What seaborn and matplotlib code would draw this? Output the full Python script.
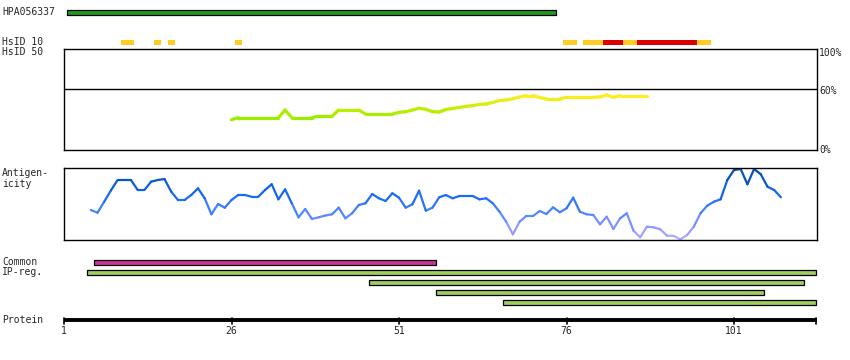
import numpy as np
import pandas as pd
import matplotlib
matplotlib.use("Agg")
import matplotlib.pyplot as plt
import seaborn as sns
from matplotlib.colors import LinearSegmentedColormap

# ---------------- data ----------------
protein_len = 113
tick_residues = [1, 26, 51, 76, 101]

hpa_name = "HPA056337"
hpa_range = (2, 74)

# HsID 10 identity blocks: (start, end, level)
hsid10_start = [10, 15, 17, 27, 76, 79, 82, 85, 87, 96]
hsid10_end = [11, 15, 17, 27, 77, 81, 84, 86, 95, 97]
hsid10_level = ["mid", "mid", "mid", "mid", "mid", "mid", "high", "mid", "high", "mid"]

# HsID 50 identity (%) per residue, residues 26..88
hsid50_start = 26
hsid50_values = [30.0, 32.0, 32.0, 32.0, 32.0, 32.0, 32.0, 32.0, 39.6, 32.0,
                 32.0, 32.0, 32.0, 33.4, 33.4, 33.4, 39.6, 39.6, 39.6, 39.6,
                 35.6, 35.6, 35.6, 35.6, 35.6, 37.3, 37.9, 39.6, 41.3, 40.3,
                 37.9, 37.6, 40.1, 41.1, 42.1, 43.3, 43.9, 45.2, 45.5, 47.0,
                 49.0, 49.5, 50.7, 52.5, 53.8, 53.8, 52.0, 50.5, 50.5, 50.5,
                 52.2, 52.2, 52.2, 52.2, 52.2, 52.5, 54.5, 52.2, 53.8, 53.8,
                 53.8, 53.8, 53.8]

# Antigenicity (relative score 0..1) per residue, residues 5..108
antigen_start = 5
antigen_values = [0.417, 0.379, 0.532, 0.688, 0.833, 0.833, 0.833, 0.694, 0.694, 0.810,
                  0.833, 0.847, 0.671, 0.556, 0.556, 0.625, 0.718, 0.579, 0.357, 0.500,
                  0.449, 0.556, 0.625, 0.625, 0.601, 0.601, 0.694, 0.774, 0.565, 0.704,
                  0.510, 0.315, 0.431, 0.292, 0.315, 0.340, 0.357, 0.449, 0.301, 0.371,
                  0.486, 0.510, 0.639, 0.579, 0.542, 0.649, 0.588, 0.449, 0.496, 0.685,
                  0.407, 0.449, 0.593, 0.625, 0.579, 0.611, 0.611, 0.611, 0.565, 0.579,
                  0.510, 0.393, 0.254, 0.079, 0.254, 0.333, 0.333, 0.403, 0.361, 0.454,
                  0.385, 0.440, 0.588, 0.393, 0.357, 0.347, 0.218, 0.324, 0.153, 0.301,
                  0.371, 0.129, 0.038, 0.185, 0.176, 0.149, 0.060, 0.056, 0.010, 0.069,
                  0.185, 0.371, 0.476, 0.532, 0.565, 0.833, 0.972, 0.986, 0.774, 0.986,
                  0.913, 0.740, 0.694, 0.593]

common_start = [6]
common_end = [56]
ipreg_start = [5, 47, 57, 67]
ipreg_end = [113, 111, 105, 113]

# ---------------- style / layout ----------------
sns.set_style("white")
plt.rcParams["font.family"] = ["DejaVu Sans Mono", "DejaVu Sans"]
FS = 7

W, H = 850, 360
XL, XR = 64, 817
px_per_res = 6.7
x_min = 1
x_max = 1 + (XR - XL) / px_per_res

fig = plt.figure(figsize=(W / 100, H / 100), dpi=100)


def box_axes(top, bottom):
    return fig.add_axes([XL / W, 1 - bottom / H, (XR - XL) / W, (bottom - top) / H])


def style_box(ax):
    ax.set_xlim(x_min, x_max)
    ax.set_xticks([])
    ax.set_yticks([])
    for s in ax.spines.values():
        s.set_visible(True)
        s.set_color("black")
        s.set_linewidth(1.0)


def segment_frame(start, values):
    rows = []
    for i in range(len(values) - 1):
        hv = (values[i] + values[i + 1]) / 2
        rows.append((start + i, values[i], i, hv))
        rows.append((start + i + 1, values[i + 1], i, hv))
    return pd.DataFrame(rows, columns=["res", "val", "seg", "hue"])


# --- HsID 50 panel ---
ax50 = box_axes(49, 150)
style_box(ax50)
ax50.set_ylim(0, 100)
ax50.axhline(60, color="black", lw=1.0)
cmap50 = LinearSegmentedColormap.from_list("hs50", ["#99ee00", "#bbee00", "#ddee11", "#ffee22"])
df50 = segment_frame(hsid50_start, hsid50_values)
sns.lineplot(data=df50, x="res", y="val", hue="hue", units="seg", estimator=None,
             palette=cmap50, hue_norm=(32, 54), legend=False, lw=2.3, sort=False,
             solid_capstyle="round", ax=ax50)
ax50.set_xlabel("")
ax50.set_ylabel("")

# --- Antigenicity panel ---
axag = box_axes(168, 240)
style_box(axag)
axag.set_ylim(0, 1)
cmapag = LinearSegmentedColormap.from_list(
    "ag", [(0.0, "#b8b0ff"), (0.2, "#8c96ff"), (0.4, "#4a84ff"),
           (0.6, "#1a6cf5"), (0.8, "#0a5ad2"), (1.0, "#004a96")])
dfag = segment_frame(antigen_start, antigen_values)
sns.lineplot(data=dfag, x="res", y="val", hue="hue", units="seg", estimator=None,
             palette=cmapag, hue_norm=(0, 1), legend=False, lw=1.6, sort=False,
             solid_capstyle="round", ax=axag)
axag.set_xlabel("")
axag.set_ylabel("")

# --- track overlay (pixel y, residue x) ---
axt = fig.add_axes([XL / W, 0, (XR - XL) / W, 1])
axt.set_xlim(x_min, x_max)
axt.set_ylim(H, 0)
axt.axis("off")
axt.patch.set_visible(False)


def draw_bar(s, e, yc, h, color, edge=True):
    left = s - 0.5
    right = min(e + 0.5, x_max - 0.08)
    axt.barh(yc, right - left, left=left, height=h, color=color,
             edgecolor="black" if edge else "none", linewidth=0.9 if edge else 0,
             clip_on=False)


draw_bar(hpa_range[0], hpa_range[1], 12.5, 5, "#1f9a1f")
level_colors = {"mid": "#ffcc22", "high": "#dd0000"}
for s, e, lv in zip(hsid10_start, hsid10_end, hsid10_level):
    draw_bar(s, e, 42.5, 5, level_colors[lv], edge=False)

for s, e in zip(common_start, common_end):
    draw_bar(s, e, 262.3, 4.5, "#cc3399")
for i, (s, e) in enumerate(zip(ipreg_start, ipreg_end)):
    draw_bar(s, e, 272.3 + 10 * i, 4.5, "#a0cc60")

# protein axis
axt.plot([x_min, x_max], [319.5, 319.5], color="black", lw=2.8, solid_capstyle="butt",
         clip_on=False)
for t in tick_residues + [x_max - 0.1]:
    axt.plot([t, t], [317.5, 323.5], color="black", lw=1.2, clip_on=False)
for t in tick_residues:
    axt.text(t, 331.5, str(t), ha="center", va="center", fontsize=FS)

# ---------------- text labels ----------------
def ftext(x, y, s, **kw):
    fig.text(x / W, 1 - y / H, s, fontsize=FS, va="center", ha="left", **kw)


ftext(2, 12, hpa_name)
ftext(2, 42, "HsID 10")
ftext(2, 52, "HsID 50")
ftext(2, 173, "Antigen-")
ftext(2, 184, "icity")
ftext(2, 262, "Common")
ftext(2, 272, "IP-reg.")
ftext(2, 320, "Protein")
ftext(819, 52.5, "100%")
ftext(819, 90.5, "60%")
ftext(819, 149.5, "0%")

fig.savefig("out.png", dpi=100)
